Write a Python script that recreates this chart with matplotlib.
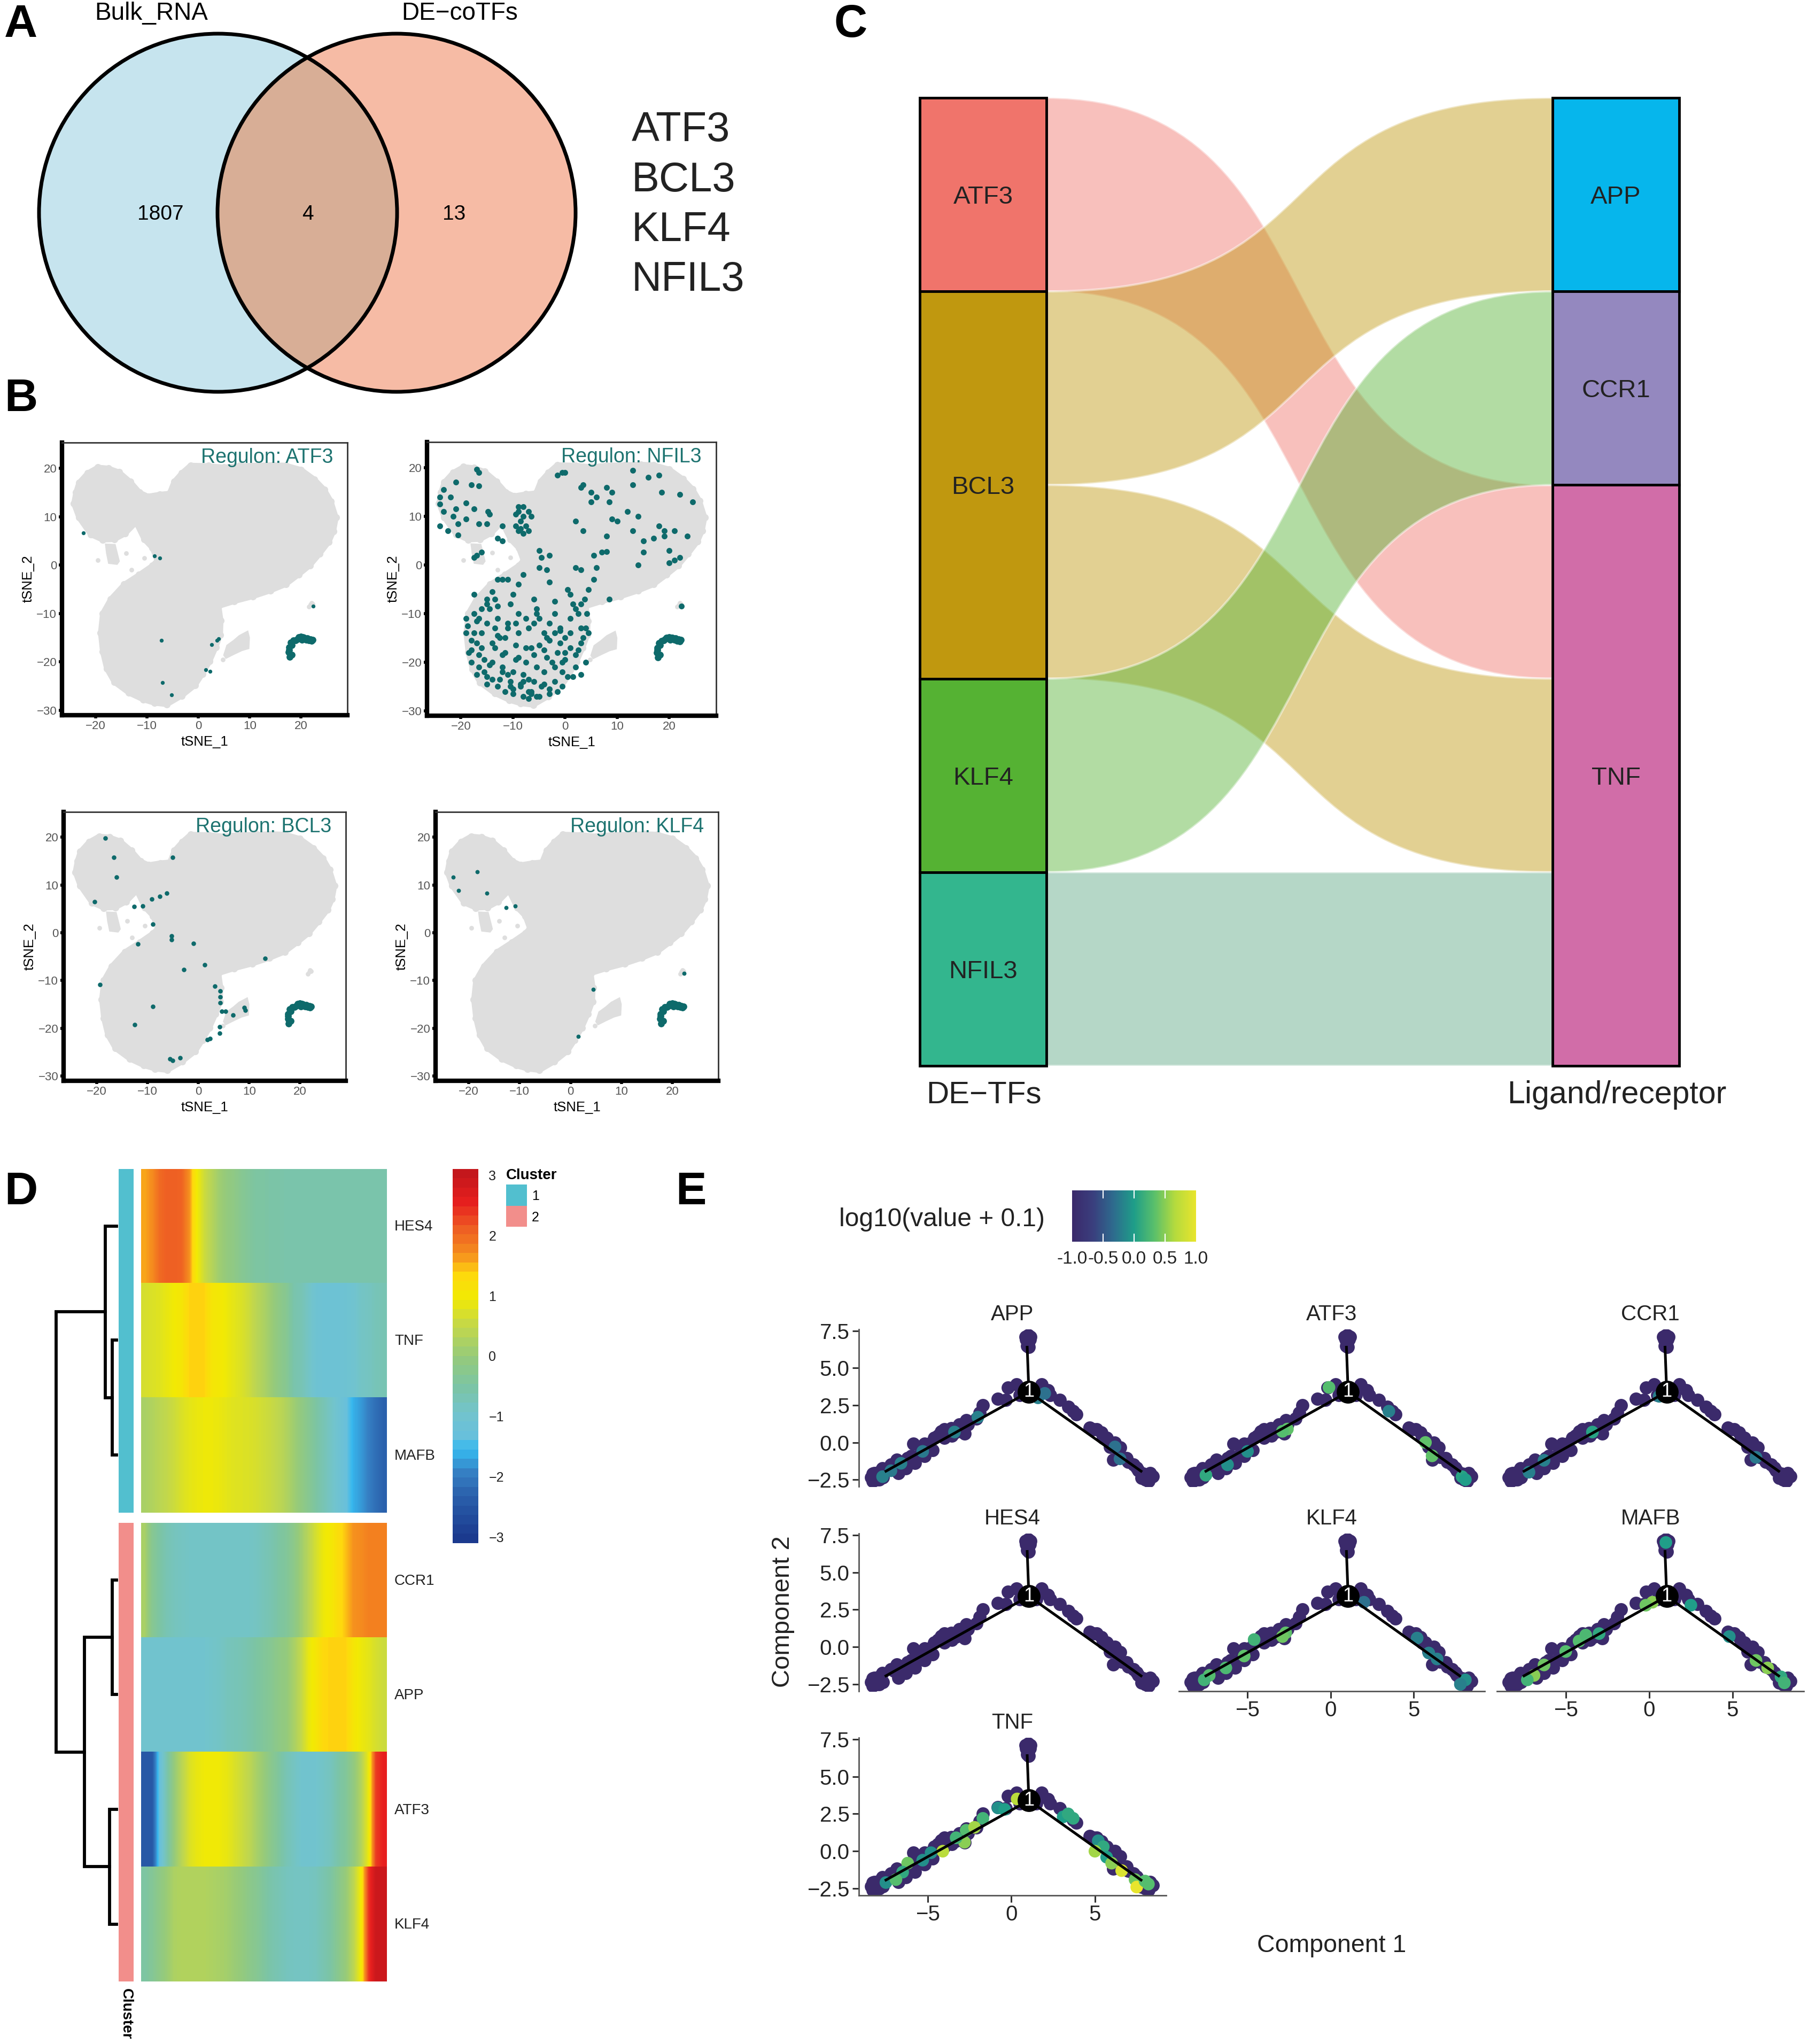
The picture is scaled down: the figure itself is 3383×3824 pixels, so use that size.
import numpy as np
import matplotlib
matplotlib.use("Agg")
import matplotlib.pyplot as plt
from matplotlib.colors import LinearSegmentedColormap
from matplotlib.patches import Circle, PathPatch, Rectangle
from matplotlib.path import Path

plt.rcParams['font.family'] = ['Liberation Sans', 'DejaVu Sans']

W, H = 3383, 3824

# ---- panel A
venn_labels = ["Bulk_RNA", "DE\u2212coTFs"]
venn_counts = [1807, 4, 13]
venn_genes = ["ATF3", "BCL3", "KLF4", "NFIL3"]

# ---- panel B (tSNE coordinates)
blob_x = [-24.2, -23.8, -23.2, -21.5, -19.5, -17.5, -15.4, -13.2, -11.4, -9.8, -7.5, -5.6, -4.7, -3.2, -1.5, 2, 5, 8, 11.5,
          14.5, 17, 20, 22.6, 24.5, 25.8, 26.8, 26.3, 25.4, 23.6, 21.7, 19.5, 17, 14, 10.6, 7, 4, 4.4, 4.3, 3.4, 2.2,
          0.8, -0.6, -3.2, -6.1, -8.5, -10.7, -13.5, -16.3, -17.8, -18.6, -19, -18.6, -17, -14.4, -11.5, -8.9, -8, -8.9,
          -10.5, -12.1, -14.2, -16.3, -18.6, -20.9, -23.2]
blob_y = [12.7, 15, 17, 19, 20.2, 20, 19.2, 17.2, 15, 14.2, 14.6, 14.8, 17.2, 19, 20.6, 20.5, 20.2, 20.5, 20.6,
          20.7, 20.6, 19.7, 17.7, 15.6, 13.2, 9.8, 7, 4.8, 2.3, -0.1, -2, -4, -5.3, -6.5, -7.5, -8.5, -11.5, -14.4, -17, -19.9,
          -22.5, -24.8, -27, -28.8, -28.5, -27.8, -26.4, -24.2, -21.4, -17.9, -14, -10, -7, -4, -2, -0.1, 0.9, 3.5,
          5.3, 8.8, 6.5, 5.3, 5.2, 6.3, 9.8]
island_a_x = [-18, -16.2, -15.4, -15.8, -17.4, -17.8]
island_a_y = [4.3, 4.2, 0.8, 0.2, 0.4, 2.5]
island_b_x = [5, 5.6, 6.9, 8, 9.6, 9.9, 9.8, 8.5, 6.9, 5.4]
island_b_y = [-18.6, -16.6, -15.6, -14.6, -13.7, -15, -17.2, -17.6, -18.4, -19.2]
stray_x = [21.8, 22.2, 21.5, -14, -13, -10.5, 24, 4.8, 22, -19.5]
stray_y = [-8.2, -8, -8.6, 2.5, -1, 1.5, 14.5, -19.5, -7.8, 1]

tail_x = [17.8, 17.6, 17.7, 18, 18.5, 19.2, 19.5, 20, 20.6, 21, 21.5, 22, 20.2, 18.2, 17.9, 17.7, 18.2, 18.9, 19.8, 20.4, 21.2, 21.8, 22.2]
tail_y = [-19, -18, -17, -16, -15.6, -15.3, -14.9, -14.8, -15, -15.4, -15.6, -15.7, -15.4, -18.5, -18.5, -17.5, -16.5, -15.5, -15.1, -14.9, -15.1, -15.3, -15.4]

atf3_x = [-22.3, -8.5, -7.5, -7.2, 2.6, 3.6, 4, 1.5, 2.3, -7, -5.2, 22.3]
atf3_y = [6.6, 1.9, 1.5, -15.5, -16.4, -15.6, -15.2, -21.6, -22, -24.3, -26.8, -8.5]
bcl3_x = [-20.4, -16.6, -16.1, -18.3, -5.1, -9.2, -7.6, -6.2, -12.6, -10.9, -8.9, -5.3, -5.3, -1, -11.9, 1.3, -2.9, 13.1,
          -19.4, -8.9, -12.5, 3.2, 4.3, 4.3, 4.3, 4.6, 5.3, 4.2, 4.2, 1.8, 2.3, 9.2, 9, 6.8, -5.6, -3.6, -5.1]
bcl3_y = [6.5, 15.8, 11.6, 19.8, 15.8, 7.1, 7.6, 8.3, 5.5, 5.6, 1.8, -0.7, -1.5, -2.2, -2.4, -6.7, -7.7, -5.4,
          -10.8, -15.4, -19.2, -11.2, -12.2, -13.4, -14.7, -16.4, -16.4, -19.7, -21, -22.4, -22.2, -16.2, -15.7, -17.2,
          -26.4, -26.2, -26.7]
klf4_x = [-18.3, -23, -22, -16.4, -12.6, -10.9, 4.5, 1.5, 22.3]
klf4_y = [12.8, 11.6, 8.8, 8.3, 5.3, 5.6, -11.9, -21.7, -8.5]
nfil3_x = [-17, -16.5, -23.3, -21, -18, -16.5, -24, -23.3, -21, -19, -17.5, -14.8, -24, -22.5, -20.5, -20.5, -19, -16.5, -15, -14.5, -12, -13,
           -9, -8, -7, -9.5, -9, -8.5, -7.5, -8, -6.5, -12, -17, -17.5, -16,
           -1.5, -0.5, 0, 3.5, 3, 8, 8.5, 6, 5, 13, 13, 16, 18, 18.5, 22, 24.5, 12, 14, 9, 10, 13, 2, 3.5, 8, 18, 19, 21, 23.5, 17, 19,
           -5, -4.5, -5, -3, -3.5, 2, 3, 5.5, 6, 7, 8, 14, 15, 20, 21, 22, -3, 1, 5.5, 4.5, 8.5, 3,
           -19, -18.7, -19, -17.5, -17, -16, -15, -14, -13, -12, -11, -17.5, -17, -18, -18.5, -18, -16, -16, -15.5, -15, -14.5, -13.5,
           -13, -13, -13.5, -14, -16.5, -17, -15, -14, -13, -12.5, -12, -11.5, -11.5, -11, -10.5, -10, -9, -8, -9, -9, -9.5, -9.5, -10,
           -10.5, -10, -8.5, -8, -7.5, -7.5, -7, -7.5, -6, -5.5, -5, -5, -6, -5.5, -6, -6.5, -7, -5, -4.5, -4, -3.5, -3.5, -3, -2, -2,
           -1, -1, -1.5, -2, -2, -3, -1.5, -0.5, -0.5, 0, 1, 1, 1, 1.5, 0.5, 2, 2, 3, 3, 3, 3.5, 4, 4.2, 2.5, 4, 4.5, 22.3,
           # second pass over the dense lower lobe
           -18, -16.5, -15.5, -14, -12.5, -12, -15, -14.5, -13, -11.5, -10.5, -8.5, -7, -6.5, -5.5, -4, -3, -2.5, -0.5, 0.5, 2.5,
           -12, -11, -9.5, -8, -7, -4, -3, -1, 0, 1.5, -9, -8, -6.5, -5.5, -11, -10, -13.5, -15, -16.5, -17.5, -6, -4, -2, 0, 3.8, 2,
           -24, -22, -21.5, -9.5, -8, -7, -8.5, -9, 5, 9, 15, 20]
nfil3_y = [19.7, 19, 15.5, 17, 16.5, 16.3, 12.5, 11, 11.5, 12.8, 11.5, 11, 8, 7, 6.2, 8.5, 9.5, 8.5, 8.5, 10.5, 8, 5.5,
           12, 12, 11, 8, 7, 9, 8, 6.5, 10, 5, 2, 1.5, 2.7,
           18.5, 19, 19, 16.5, 16, 16, 13, 14, 13, 19.5, 16.5, 18, 18.5, 15, 14.5, 13, 11, 10, 9.5, 9, 7, 9, 7, 6, 8, 7, 7, 6, 5.5, 6,
           3, 1.5, -0.5, 2, -1, -0.5, -1, 2, -0.5, 2.7, 2.8, 0, 2.6, 0.5, 1, 1.5, -3.5, -6, -3, -5, -7, -8,
           -11, -12.5, -14, -10, -11.5, -9, -7, -5.5, -3, -3, -3, -14, -16, -17.5, -18, -20, -14, -17, -19.5, -12, -9, -7,
           -11, -14.5, -17, -20, -21, -22.5, -23, -23.5, -25, -23.5, -21, -18, -15, -12, -8, -6, -4, -2, -10, -14, -16.5, -19.5, -22,
           -25, -26.5, -25, -22.5, -20, -17, -13, -11, -7, -9, -11, -16.5, -18.5, -21, -24, -26, -27.5, -27, -25, -22, -19, -15, -12, -10, -7.5,
           -13, -16, -18, -21, -24, -25.5, -26, -25, -22, -19.5, -17, -14, -11, -8, -5, -21, -18.5, -22.5, -16, -13, -15, -13, -10, -10, -20, -14, -8.5,
           -15.5, -18.5, -22, -16, -15, -22, -24.5, -20.5, -8.5, -26, -24, -24.5, -23.5, -26.5, -27, -24.5, -26.5, -20, -20, -23, -17.5,
           -18.5, -13, -12, -27, -26, -17.5, -15.5, -13.5, -15, -23, -19, -24, -17, -10, -22.5, -25.5, -13, -8, -11, -6, -12, -14, -14, -18, -7, -9,
           14, 14, 10, 10.5, 10, 7, 7.5, 11, 15, 15, 5, 3]
regulons = ["ATF3", "NFIL3", "BCL3", "KLF4"]

# ---- panel C
tf_names = ["ATF3", "BCL3", "KLF4", "NFIL3"]
lr_names = ["APP", "CCR1", "TNF"]
flow_src = ["ATF3", "BCL3", "BCL3", "KLF4", "NFIL3"]
flow_dst = ["TNF", "APP", "TNF", "CCR1", "TNF"]
flow_counts = [1, 1, 1, 1, 1]
flow_cols = ["#F0746B", "#C0980F", "#C0980F", "#55B233", "#5BA883"]
tf_cols = ["#F0746B", "#C0980F", "#55B233", "#33B68E"]
lr_cols = ["#06B6EC", "#9488BF", "#D16DA8"]

# ---- panel D
heat_genes = ["HES4", "TNF", "MAFB", "CCR1", "APP", "ATF3", "KLF4"]
hes4_vals = [1.6, 1.75, 2.05, 2.15, 2.15, 2.1, 1.7, 1.0, 0.6, 0.35, 0.1, -0.05, -0.15, -0.3, -0.4, -0.5, -0.5, -0.55, -0.55, -0.6,
             -0.6, -0.6, -0.6, -0.6, -0.6, -0.6, -0.6, -0.6, -0.6, -0.6, -0.6, -0.6, -0.6]
tnf_vals = [0.7, 0.75, 0.8, 0.9, 1.0, 1.1, 1.42, 1.42, 1.42, 1.1, 1.05, 0.95, 0.85, 0.75, 0.6, 0.4, 0.25, 0.05, -0.15, -0.3,
            -0.6, -0.7, -0.9, -1.1, -1.15, -1.15, -1.15, -1.1, -1.05, -0.9, -0.85, -0.75, -0.7]
mafb_vals = [0.2, 0.3, 0.4, 0.5, 0.6, 0.75, 0.85, 0.92, 0.95, 0.95, 0.92, 0.85, 0.8, 0.78, 0.75, 0.7, 0.62, 0.55, 0.45, 0.3,
             0.1, -0.1, -0.3, -0.5, -0.7, -0.9, -1.1, -1.3, -1.65, -1.8, -2.0, -2.2, -2.35]
ccr1_vals = [0.2, -0.3, -0.5, -0.7, -0.8, -0.85, -0.9, -0.9, -0.9, -0.9, -0.9, -0.9, -0.9, -0.9, -0.9, -0.85, -0.75, -0.65, -0.5, -0.4,
             -0.2, 0.1, 0.4, 0.7, 0.95, 1.05, 1.3, 1.5, 1.7, 1.75, 1.85, 1.85, 1.85]
app_vals = [-1.0, -1.0, -1.0, -1.0, -1.0, -1.0, -1.0, -1.0, -1.0, -0.95, -0.9, -0.8, -0.75, -0.7, -0.6, -0.5, -0.4, -0.3, -0.15, -0.05,
            0.2, 0.5, 0.9, 1.1, 1.38, 1.42, 1.42, 1.42, 1.1, 0.95, 0.85, 0.7, 0.6]
atf3_vals = [-2.5, -2.5, -1.3, -0.6, 0.0, 0.4, 0.75, 0.9, 0.97, 0.97, 0.97, 0.9, 0.75, 0.6, 0.45, 0.2, 0.0, -0.25, -0.45, -0.7,
             -0.85, -1.0, -1.0, -1.0, -0.9, -0.8, -0.55, -0.4, -0.1, 0.3, 0.9, 2.4, 2.6]
klf4_vals = [-0.5, -0.35, -0.15, 0.05, 0.25, 0.3, 0.3, 0.3, 0.3, 0.25, 0.2, 0.15, 0.05, -0.05, -0.2, -0.3, -0.45, -0.6, -0.7, -0.8,
             -0.85, -0.85, -0.85, -0.8, -0.65, -0.5, -0.25, 0.0, 0.4, 1.0, 2.4, 3.0, 3.0]
heat_rows = [hes4_vals, tnf_vals, mafb_vals, ccr1_vals, app_vals, atf3_vals, klf4_vals]
heat_ticks = [3, 2, 1, 0, -1, -2, -3]
heat_stops = [-3.1, -2.4, -2.0, -1.6, -1.35, -1.0, -0.5, 0.0, 0.5, 1.0, 1.4, 1.7, 2.2, 2.6, 3.1]
heat_cols = ["#1B3A8E", "#2A5FAB", "#3680C4", "#37B9EF", "#68C0DC", "#72C4CE", "#7DC5A3", "#97CB7A", "#C3D84B",
             "#F2EA04", "#FFD80E", "#F6921E", "#EE5B24", "#E8201F", "#C4171C"]
cluster_cols = ["#52BFCF", "#F28E8B"]

# ---- panel E
cell_x = [1.0, 0.85, 1.15, 0.9, 1.1, 1.0, 0.95, 1.05, -0.2, 0.3, 0.6, 1.8, 2.2, 2.33, 0.5, 1.5,
          2.9, 3.4, 3.7, 3.9, 4.7, 4.9, 5.4, 5.7, 6.2, 6.5, 6.1, 6.9, 7.3, 8.1, 7.8, 8.3, 8.0, 8.45, 7.6, 8.2,
          -1.7, -0.8, -0.33, -2.7, -2.1, -3.1, -3.6, -4.2, -4.4, -3.55, -2.8, -5.2, -5.85, -4.7, -5.4, -6.2, -6.86, -5.75,
          -6.3, -6.76, -7.7, -8.2, -8.4, -8.05, -7.68, -7.9, -4.0, -3.2, -4.6, -6.0, -7.2, -8.3,
          -7.0, -6.5, -5.2, -4.9, -4.0, -3.9, -3.3, -2.6, -1.9, -8.0, -8.3, -7.9,
          5.1, 5.5, 5.9, 6.4, 6.6, 7.0, 7.5, 8.2, 7.9]
cell_y = [7.2, 7.1, 7.1, 6.9, 6.9, 6.7, 6.5, 6.4, 3.7, 3.9, 3.6, 3.9, 3.5, 3.2, 3.2, 3.2,
          2.87, 2.4, 2.1, 1.9, 1.0, 0.9, 0.67, 0.3, 0.0, -0.35, -1.18, -1.04, -1.5, -2.2, -2.4, -2.07, -2.48, -2.28, -1.9, -2.6,
          2.5, 2.94, 2.87, 1.5, 1.6, 1.2, 0.95, 0.74, 0.47, 0.47, 0.6, -0.08, -0.08, -0.5, -0.7, -1.04, -1.18, -1.39,
          -1.73, -2.07, -1.73, -2.07, -2.35, -2.48, -2.35, -2.0, 0.9, 0.95, 0.3, -0.9, -1.5, -2.6,
          -1.6, -1.6, -0.9, -0.1, 0.3, 0.6, 0.7, 1.2, 2.0, -2.2, -2.1, -2.5,
          0.9, 0.3, -0.3, -0.6, -1.0, -1.3, -1.7, -2.4, -2.1]
# cells with some expression: x, y, value
app_hi_x = [1.6, -2.0, -3.4, -5.3, -6.6, -7.2, -7.7, 6.2, 6.5, 2.0]
app_hi_y = [3.0, 1.7, 0.7, -0.6, -1.4, -1.9, -2.3, -0.3, -1.1, 3.3]
app_hi_v = [-0.2, -0.2, -0.2, -0.25, -0.2, -0.25, -0.2, -0.3, -0.3, -0.3]
atf3_hi_x = [-0.1, -2.6, -2.9, -5.0, -6.2, -7.5, 3.5, 5.7, 6.1, 7.9, 8.1]
atf3_hi_y = [3.7, 0.9, 0.75, -0.6, -1.5, -2.2, 2.1, 0.0, -0.9, -2.3, -2.5]
atf3_hi_v = [0.3, 0.35, 0.3, -0.1, -0.1, 0.1, -0.2, 0.35, 0.35, 0.05, 0.0]
ccr1_hi_x = [-3.4, -6.3, -7.2, 0.6, 6.4]
ccr1_hi_y = [0.7, -1.2, -2.0, 3.1, -1.0]
ccr1_hi_v = [0.05, -0.2, -0.2, -0.2, -0.25]
hes4_hi_x = []
hes4_hi_y = []
hes4_hi_v = []
klf4_hi_x = [-2.7, -2.9, -4.6, -5.2, -6.3, -7.3, -7.6, 5.2, 5.9, 6.4, 8.1, 7.8, 2.0]
klf4_hi_y = [0.95, 0.7, 0.5, -0.6, -1.4, -1.9, -2.2, 0.6, -0.4, -0.8, -2.2, -2.5, 3.0]
klf4_hi_v = [0.35, 0.4, 0.2, 0.35, 0.25, 0.3, 0.2, -0.2, -0.2, -0.2, -0.1, -0.2, -0.3]
mafb_hi_x = [-4.2, -3.8, -3.0, -5.0, -6.3, -6.9, -7.3, 0.2, -0.2, 1.0, 6.4, 7.1, 7.9, 8.1, 4.8, 2.5]
mafb_hi_y = [0.4, 0.8, 0.9, -0.3, -1.2, -1.9, -2.2, 3.0, 2.8, 7.0, -0.9, -1.4, -2.0, -2.4, 0.7, 2.8]
mafb_hi_v = [0.3, 0.25, 0.1, 0.3, 0.4, 0.5, 0.2, 0.5, 0.4, 0.0, 0.4, 0.5, 0.1, 0.2, -0.1, 0.0]
tnf_hi_x = [0.35, -0.8, -0.4, -1.7, -2.7, -2.2, -2.8, -3.3, -4.1, -4.8, -5.3, -6.2, -6.5, -7.5, -6.9, 3.1, 3.4, 3.7, 5.2, 5.5, 5.0, 5.7, 6.0, 6.6, 7.4, 7.5, 8.0, 8.2]
tnf_hi_y = [3.5, 2.9, 2.8, 2.2, 1.4, 1.6, 0.6, 0.9, 0.0, -0.1, -0.6, -0.8, -1.4, -2.1, -1.9, 2.3, 2.5, 2.2, 0.7, 0.3, 0.0, -0.4, -0.8, -1.3, -1.9, -2.4, -2.0, -2.2]
tnf_hi_v = [0.7, -0.1, 0.0, 0.2, 0.3, 0.6, 0.5, 0.2, 0.7, -0.1, -0.1, 0.4, 0.1, -0.1, 0.3, 0.0, 0.1, 0.1, -0.1, 0.1, 0.6, 0.0, 0.5, 0.9, 0.4, 1.0, 0.3, 0.3]
traj_genes = ["APP", "ATF3", "CCR1", "HES4", "KLF4", "MAFB", "TNF"]
traj_hi = [(app_hi_x, app_hi_y, app_hi_v), (atf3_hi_x, atf3_hi_y, atf3_hi_v), (ccr1_hi_x, ccr1_hi_y, ccr1_hi_v),
           (hes4_hi_x, hes4_hi_y, hes4_hi_v), (klf4_hi_x, klf4_hi_y, klf4_hi_v), (mafb_hi_x, mafb_hi_y, mafb_hi_v),
           (tnf_hi_x, tnf_hi_y, tnf_hi_v)]
branch_x = [[-7.5, 1.05], [7.76, 1.05], [0.95, 1.05]]
branch_y = [[-1.93, 3.4], [-1.93, 3.4], [6.4, 3.4]]
node_x = 1.05
node_y = 3.4
# the print washes viridis out a bit, so use the printed colours
expr_cols = ["#3B2A6B", "#3A3F7E", "#2E6C8E", "#1F9E89", "#5BC06B", "#B5DB3E", "#E8E52D"]


def px_axes(fig, left, top, right, bottom):
    # axes placed by pixel box of the target image
    return fig.add_axes([left / W, 1 - bottom / H, (right - left) / W, (bottom - top) / H])


def draw_venn(ov):
    left = Circle((408, 398), 335, fc="#C6E4EE", ec="none")
    right = Circle((742, 398), 335, fc="#F6BBA5", ec="none")
    ov.add_patch(left)
    ov.add_patch(right)
    overlap = Circle((742, 398), 335, fc="#D8AE96", ec="none")
    ov.add_patch(overlap)
    overlap.set_clip_path(Circle((408, 398), 335, transform=ov.transData))
    for cx in (408, 742):
        ov.add_patch(Circle((cx, 398), 335, fc="none", ec="black", lw=5))
    ov.text(283, 25, venn_labels[0], fontsize=33, ha="center", va="center")
    ov.text(860, 25, venn_labels[1], fontsize=33, ha="center", va="center")
    for x, n in zip((300, 576, 850), venn_counts):
        ov.text(x, 401, str(n), fontsize=28, ha="center", va="center")
    for y, g in zip((243, 337, 430, 523), venn_genes):
        ov.text(1182, y, g, fontsize=56, ha="left", va="center", color="#222222")


def draw_tsne(ax, name, xs, ys, size):
    gray = "#DEDEDE"
    teal = "#0E6A6B"
    ax.fill(blob_x, blob_y, fc=gray, ec=gray, lw=7, joinstyle="round")
    ax.scatter(blob_x, blob_y, s=90, color=gray, lw=0)
    ax.fill(island_a_x, island_a_y, color=gray, lw=2)
    ax.fill(island_b_x, island_b_y, color=gray, lw=2)
    ax.scatter(stray_x, stray_y, s=40, color=gray, lw=0)
    ax.scatter(tail_x, tail_y, s=85, color=teal, lw=0)
    ax.scatter(xs, ys, s=size, color=teal, lw=0)
    ax.set_xlim(-26.5, 29)
    ax.set_ylim(-31, 25.3)
    ax.set_xticks([-20, -10, 0, 10, 20])
    ax.set_yticks([-30, -20, -10, 0, 10, 20])
    ax.tick_params(labelsize=16, labelcolor="#555555", length=4, width=4, pad=3)
    ax.set_xlabel("tSNE_1", fontsize=18.5, labelpad=5)
    ax.set_ylabel("tSNE_2", fontsize=18.5, labelpad=3)
    for side in ("left", "bottom"):
        ax.spines[side].set_linewidth(6)
    for side in ("top", "right"):
        ax.spines[side].set_linewidth(2)
        ax.spines[side].set_color("#333333")
    ax.text(0.95, 0.945, "Regulon: " + name, transform=ax.transAxes, fontsize=27, color="#1D7370", ha="right", va="center")


def draw_sankey(ax):
    ax.set_xlim(0, 1)
    ax.set_ylim(5, 0)
    ax.axis("off")
    box = 237 / 1421
    left_next = {n: 0.0 for n in tf_names}
    right_next = {n: 0.0 for n in lr_names}
    # stratum tops
    tf_tot = [sum(c for s, c in zip(flow_src, flow_counts) if s == n) for n in tf_names]
    lr_tot = [sum(c for s, c in zip(flow_dst, flow_counts) if s == n) for n in lr_names]
    tf_top = np.concatenate([[0], np.cumsum(tf_tot)])
    lr_top = np.concatenate([[0], np.cumsum(lr_tot)])
    for n, t in zip(tf_names, tf_top):
        left_next[n] = t
    for n, t in zip(lr_names, lr_top):
        right_next[n] = t
    x0, x1 = box, 1 - box
    # control points past the middle make the ribbons steeper there, like the original
    xa = x0 + 0.6 * (x1 - x0)
    xb = x0 + 0.4 * (x1 - x0)
    for s, d, c, col in zip(flow_src, flow_dst, flow_counts, flow_cols):
        a = left_next[s]
        b = right_next[d]
        left_next[s] += c
        right_next[d] += c
        verts = [(x0, a), (xa, a), (xb, b), (x1, b), (x1, b + c), (xb, b + c), (xa, a + c), (x0, a + c), (x0, a)]
        codes = [Path.MOVETO, Path.CURVE4, Path.CURVE4, Path.CURVE4, Path.LINETO, Path.CURVE4, Path.CURVE4, Path.CURVE4, Path.CLOSEPOLY]
        ax.add_patch(PathPatch(Path(verts, codes), fc=col, alpha=0.45, ec="white", lw=3))
    for n, t, h, col in zip(tf_names, tf_top, tf_tot, tf_cols):
        ax.add_patch(Rectangle((0, t), box, h, fc=col, ec="black", lw=3.5, clip_on=False))
        ax.text(box / 2, t + h / 2 + 0.014, n, fontsize=34, ha="center", va="center", color="#222222")
    for n, t, h, col in zip(lr_names, lr_top, lr_tot, lr_cols):
        ax.add_patch(Rectangle((1 - box, t), box, h, fc=col, ec="black", lw=3.5, clip_on=False))
        ax.text(1 - box / 2, t + h / 2 + 0.014, n, fontsize=34, ha="center", va="center", color="#222222")


def draw_heat(ov, fig, cmap):
    row_tops = [2187, 2400, 2614, 2849, 3063, 3277, 3492]
    row_bots = [2400, 2614, 2830, 3063, 3277, 3492, 3707]
    ax = px_axes(fig, 264, 2187, 724, 3707)
    ax.set_xlim(264, 724)
    ax.set_ylim(3707, 2187)
    ax.axis("off")
    for vals, t, b, g in zip(heat_rows, row_tops, row_bots, heat_genes):
        ax.imshow(np.array([vals]), cmap=cmap, vmin=-3.1, vmax=3.1, aspect="auto", extent=(264, 724, b, t),
                  interpolation="bilinear")
        ov.text(738, (t + b) / 2 + 2, g, fontsize=20, ha="left", va="center", color="#222222")
    ax.set_xlim(264, 724)
    ax.set_ylim(3707, 2187)
    # cluster strip
    ov.add_patch(Rectangle((222, 2187), 28, 2830 - 2187, fc=cluster_cols[0], ec="none"))
    ov.add_patch(Rectangle((222, 2849), 28, 3707 - 2849, fc=cluster_cols[1], ec="none"))
    ov.text(236, 3768, "Cluster", fontsize=20, fontweight="bold", rotation=270, ha="center", va="center")
    # dendrogram
    c = [(t + b) / 2 for t, b in zip(row_tops, row_bots)]
    lw = 4.2
    def link(x, y1, y2, x1, x2):
        ov.plot([x1, x, x, x2], [y1, y1, y2, y2], color="black", lw=lw, solid_joinstyle="miter")
    tm = (c[1] + c[2]) / 2
    link(210, c[1], c[2], 218, 218)
    link(197, c[0], tm, 218, 210)
    top = (c[0] + tm) / 2
    ca = (c[3] + c[4]) / 2
    cb = (c[5] + c[6]) / 2
    link(210, c[3], c[4], 218, 218)
    link(205, c[5], c[6], 218, 218)
    link(158, ca, cb, 210, 205)
    bot = (ca + cb) / 2
    link(105, top, bot, 197, 158)
    # colourbar
    cax = px_axes(fig, 847, 2187, 895, 2887)
    grad = np.linspace(3.1, -3.1, 40).reshape(-1, 1)
    cax.imshow(grad, cmap=cmap, vmin=-3.1, vmax=3.1, aspect="auto", extent=(0, 1, -3.1, 3.1))
    cax.set_xticks([])
    cax.yaxis.tick_right()
    cax.set_yticks(heat_ticks)
    cax.tick_params(axis="y", length=0, labelsize=18, pad=14, labelcolor="#222222")
    for sp in cax.spines.values():
        sp.set_visible(False)
    # cluster legend
    ov.text(947, 2199, "Cluster", fontsize=20, fontweight="bold", ha="left", va="center")
    ov.add_patch(Rectangle((947, 2216), 39, 40, fc=cluster_cols[0], ec="none"))
    ov.add_patch(Rectangle((947, 2256), 39, 39, fc=cluster_cols[1], ec="none"))
    ov.text(995, 2238, "1", fontsize=18, ha="left", va="center")
    ov.text(995, 2278, "2", fontsize=18, ha="left", va="center")


def draw_traj(ax, name, hi, show_left, show_bottom, cmap):
    ax.scatter(cell_x, cell_y, s=320, color=expr_cols[0], lw=0, zorder=2)
    hx, hy, hv = hi
    if len(hx):
        ax.scatter(hx, hy, c=hv, s=290, cmap=cmap, vmin=-1, vmax=1, lw=0, zorder=3)
    for bx, by in zip(branch_x, branch_y):
        ax.plot(bx, by, color="black", lw=3.6, zorder=4)
    ax.scatter([node_x], [node_y], s=950, color="black", lw=0, zorder=5)
    ax.text(node_x, node_y, "1", color="white", fontsize=26, ha="center", va="center", zorder=6)
    ax.set_xlim(-9.12, 9.26)
    ax.set_ylim(-2.96, 7.6)
    ax.set_xticks([-5, 0, 5])
    ax.set_yticks([-2.5, 0, 2.5, 5, 7.5])
    ax.set_yticklabels(["\u22122.5", "0.0", "2.5", "5.0", "7.5"])
    ax.tick_params(labelsize=29, length=9, width=2.2, color="#333333", labelcolor="#222222")
    for side in ("top", "right"):
        ax.spines[side].set_visible(False)
    for side in ("left", "bottom"):
        ax.spines[side].set_linewidth(2)
        ax.spines[side].set_color("#555555")
    ax.spines["left"].set_visible(show_left)
    ax.spines["bottom"].set_visible(show_bottom)
    if not show_left:
        ax.set_yticks([])
    if not show_bottom:
        ax.set_xticks([])
    ax.set_title(name, fontsize=29, pad=12, color="#222222")


fig = plt.figure(figsize=(W / 100, H / 100), dpi=100)
ov = fig.add_axes([0, 0, 1, 1])
ov.set_xlim(0, W)
ov.set_ylim(H, 0)
ov.axis("off")

for letter, x, y in zip("ABCDE", (39, 39, 1592, 39, 1293), (47, 747, 47, 2231, 2231)):
    ov.text(x, y, letter, fontsize=62, fontweight="bold", ha="center", va="center")

draw_venn(ov)

# tSNE panels
tsne_boxes = [(116, 828, 650, 1338), (799, 827, 1340, 1339), (119, 1519, 647, 2022), (815, 1519, 1344, 2022)]
tsne_pts = [(atf3_x, atf3_y), (nfil3_x, nfil3_y), (bcl3_x, bcl3_y), (klf4_x, klf4_y)]
tsne_sizes = [28, 62, 38, 32]
for box, name, pts, size in zip(tsne_boxes, regulons, tsne_pts, tsne_sizes):
    draw_tsne(px_axes(fig, *box), name, pts[0], pts[1], size)

# alluvial
draw_sankey(px_axes(fig, 1721, 183, 3142, 1994))
ov.text(1841, 2048, "DE\u2212TFs", fontsize=42, ha="center", va="center", color="#222222")
ov.text(3025, 2048, "Ligand/receptor", fontsize=42.5, ha="center", va="center", color="#222222")

# heatmap
heat_cmap = LinearSegmentedColormap.from_list(
    "heat", [((s - heat_stops[0]) / (heat_stops[-1] - heat_stops[0]), c) for s, c in zip(heat_stops, heat_cols)])
draw_heat(ov, fig, heat_cmap)

# trajectories
expr_cmap = LinearSegmentedColormap.from_list("expr", expr_cols)
col_lr = [(1607, 2182), (2206, 2778), (2801, 3375)]
row_tb = [(2487, 2781), (2869, 3164), (3251, 3546)]
for i, (name, hi) in enumerate(zip(traj_genes, traj_hi)):
    r, c = i // 3, i % 3
    ax = px_axes(fig, col_lr[c][0], row_tb[r][0], col_lr[c][1], row_tb[r][1])
    show_bottom = (r == 2) or (r == 1 and c > 0)
    draw_traj(ax, name, hi, c == 0, show_bottom, expr_cmap)

ov.text(1465, 3015, "Component 2", fontsize=34, rotation=90, ha="center", va="center", color="#222222")
ov.text(2492, 3640, "Component 1", fontsize=33.5, ha="center", va="center", color="#222222")

# colour legend
ov.text(1762, 2281, "log10(value + 0.1)", fontsize=34.5, ha="center", va="center", color="#222222")
lax = px_axes(fig, 2006, 2227, 2238, 2323)
lax.imshow(np.linspace(-1, 1, 200).reshape(1, -1), cmap=expr_cmap, aspect="auto", extent=(-1, 1, 0, 1))
lax.set_yticks([])
lax.set_xticks([-1, -0.5, 0, 0.5, 1])
lax.set_xticklabels(["-1.0", "-0.5", "0.0", "0.5", "1.0"])
lax.tick_params(axis="x", labelsize=24, length=0, pad=12, labelcolor="#222222")
for v in (-0.5, 0, 0.5):
    lax.plot([v, v], [0, 0.15], color="white", lw=1.5)
    lax.plot([v, v], [0.85, 1], color="white", lw=1.5)
for sp in lax.spines.values():
    sp.set_visible(False)

fig.savefig("out.png", dpi=100)
